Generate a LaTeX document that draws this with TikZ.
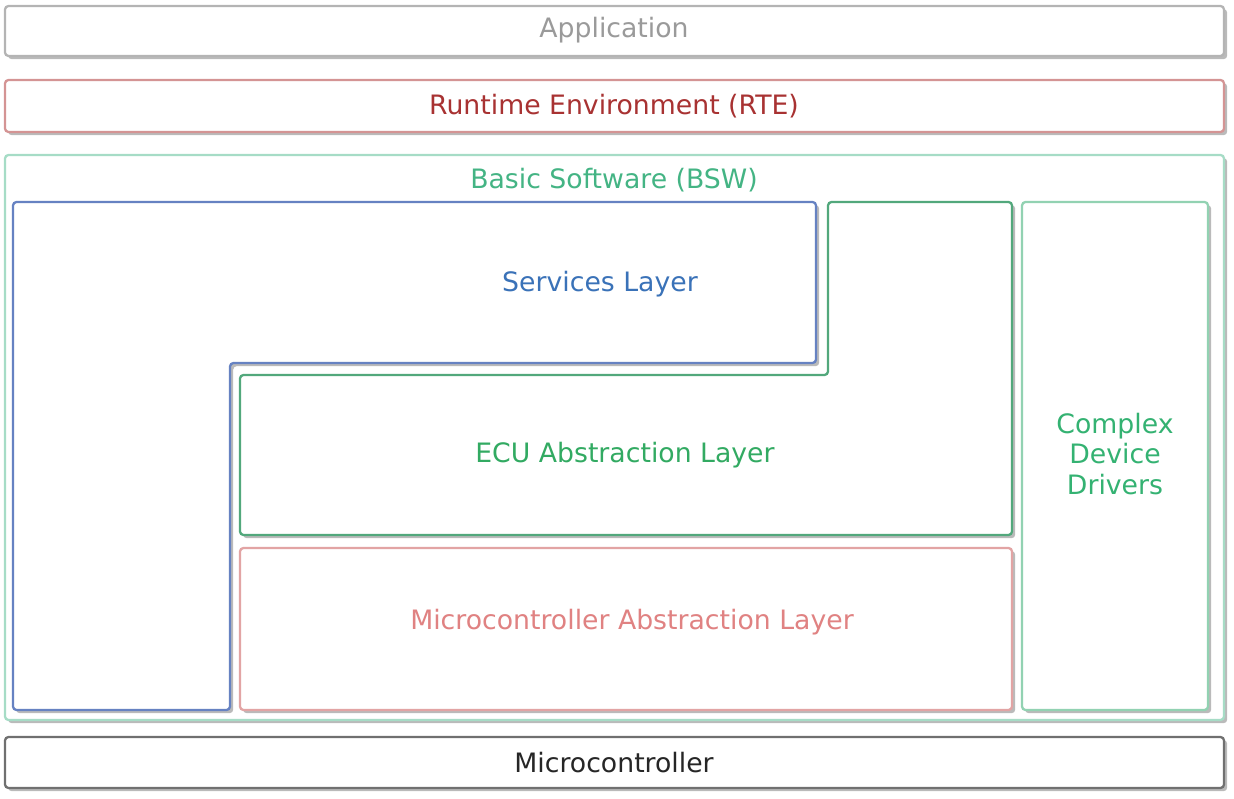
\documentclass[tikz,border=0pt]{standalone}
\usepackage{fontspec}
\setmainfont{DejaVu Sans}
\usetikzlibrary{shadows}

\definecolor{appgray}{HTML}{B4B4B4}
\definecolor{apptext}{HTML}{9A9A9A}
\definecolor{rteline}{HTML}{D49494}
\definecolor{rtetext}{HTML}{A83232}
\definecolor{bswline}{HTML}{A6DCC6}
\definecolor{bswtext}{HTML}{44B484}
\definecolor{svcline}{HTML}{6682C2}
\definecolor{svctext}{HTML}{3A72B8}
\definecolor{eculine}{HTML}{52A87C}
\definecolor{ecutext}{HTML}{32AA62}
\definecolor{mcalline}{HTML}{E2A4A4}
\definecolor{mcaltext}{HTML}{E08282}
\definecolor{cddline}{HTML}{92D2B2}
\definecolor{cddtext}{HTML}{34B272}
\definecolor{mcline}{HTML}{707070}

\tikzset{
  layer/.style = {line width = 1.3pt, rounded corners = 2pt, fill = white,
    drop shadow = {shadow xshift = 1.8pt, shadow yshift = -1.8pt,
      opacity = 0.45, fill = black!60}},
  label/.style = {font = \fontsize{15.2}{17.5}\selectfont, align = center}
}

\begin{document}
\begin{tikzpicture}[x = 0.02cm, y = 0.02cm]
  \useasboundingbox (0,0) rectangle (1234,798);

  % top layers
  \draw [layer, draw = appgray] (5,742) rectangle (1224,792);
  \node [label, text = apptext] (app) at (614,768) {Application};

  \draw [layer, draw = rteline] (5,666) rectangle (1224,718);
  \node [label, text = rtetext] (rte) at (614,692) {Runtime Environment (RTE)};

  % basic software
  \draw [layer, draw = bswline] (5,78) rectangle (1224,643);
  \node [label, text = bswtext] (bsw) at (614,618) {Basic Software (BSW)};

  \draw [layer, draw = svcline] (13,596) -- (816,596) -- (816,435)
    -- (230,435) -- (230,88) -- (13,88) -- cycle;
  \node [label, text = svctext] (svc) at (600,514) {Services Layer};

  \draw [layer, draw = eculine] (828,596) -- (1012,596) -- (1012,263)
    -- (240,263) -- (240,423) -- (828,423) -- cycle;
  \node [label, text = ecutext] (ecu) at (625,343) {ECU Abstraction Layer};

  \draw [layer, draw = mcalline] (240,88) rectangle (1012,250);
  \node [label, text = mcaltext] (mcal) at (632,176)
    {Microcontroller Abstraction Layer};

  \draw [layer, draw = cddline] (1022,88) rectangle (1208,596);
  \node [label, text = cddtext] (cdd) at (1115,344) {Complex\\Device\\Drivers};

  % hardware
  \draw [layer, draw = mcline] (5,10) rectangle (1224,61);
  \node [label, text = black!85] (mc) at (614,35) {Microcontroller};
\end{tikzpicture}
\end{document}
